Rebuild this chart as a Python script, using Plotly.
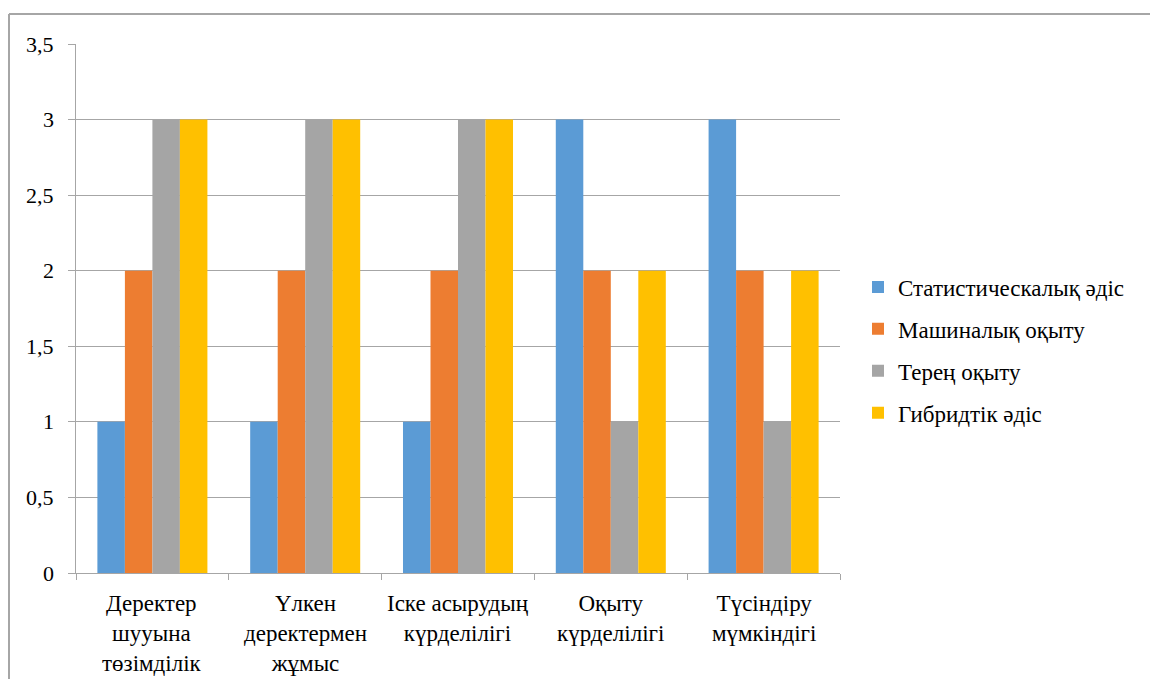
import plotly.graph_objects as go

categories = [
    "Деректер<br>шууына<br>төзімділік",
    "Үлкен<br>деректермен<br>жұмыс",
    "Іске асырудың<br>күрделілігі",
    "Оқыту<br>күрделілігі",
    "Түсіндіру<br>мүмкіндігі",
]
series_names = ["Статистическалық әдіс", "Машиналық оқыту", "Терең оқыту", "Гибридтік әдіс"]
statistical = [1, 1, 1, 3, 3]
machine_learning = [2, 2, 2, 2, 2]
deep_learning = [3, 3, 3, 1, 1]
hybrid = [3, 3, 3, 2, 2]
y_ticks = [0, 0.5, 1, 1.5, 2, 2.5, 3, 3.5]

colors = ["#5B9BD5", "#ED7D31", "#A5A5A5", "#FFC000"]
FONT = "Liberation Serif"

W, H = 1150, 679
L, R, T, B = 76, 310, 44, 106
pw, ph = W - L - R, H - T - B


def px_x(x):
    return (x - L) / pw


def px_y(y):
    return (H - B - y) / ph


fig = go.Figure()
for i, (name, vals) in enumerate(zip(series_names,
                                     [statistical, machine_learning, deep_learning, hybrid])):
    fig.add_trace(go.Bar(
        x=categories, y=vals, name=name,
        marker=dict(color=colors[i], line=dict(width=0)),
        legendgroup=f"g{i}",
    ))

# category labels under the x axis
for cat in categories:
    fig.add_annotation(x=cat, xref="x", y=0, yref="paper", yanchor="top", yshift=-16,
                       text=cat, showarrow=False, align="center",
                       font=dict(family=FONT, size=23, color="black"))

# value labels beside the y axis, with a decimal comma
for v in y_ticks:
    fig.add_annotation(x=0, xref="paper", xanchor="right", xshift=-20,
                       y=v, yref="y", yanchor="middle",
                       text=f"{v:g}".replace(".", ","), showarrow=False,
                       font=dict(family=FONT, size=22, color="black"))

fig.update_layout(
    width=W, height=H,
    margin=dict(l=L, r=R, t=T, b=B),
    paper_bgcolor="white", plot_bgcolor="white",
    separators=", ",
    barmode="group", bargap=0.28, bargroupgap=0,
    font=dict(family=FONT, size=23, color="black"),
    showlegend=True,
    legend=dict(
        x=px_x(858), y=px_y(350), xanchor="left", yanchor="middle",
        tracegroupgap=9,
    ),
    xaxis=dict(
        showgrid=False, showline=True, linecolor="#a6a6a6", linewidth=1,
        ticks="outside", tickson="boundaries", ticklen=6, tickcolor="#a6a6a6",
        showticklabels=False, automargin=False,
    ),
    yaxis=dict(
        range=[0, 3.5], tickvals=y_ticks, showgrid=True, gridcolor="#a6a6a6", gridwidth=1,
        showline=True, linecolor="#a6a6a6", linewidth=1,
        ticks="outside", ticklen=7, tickcolor="#a6a6a6",
        showticklabels=False, automargin=False,
        zeroline=False,
    ),
    shapes=[
        dict(type="line", xref="paper", yref="paper",
             x0=px_x(9), x1=px_x(W + 5), y0=px_y(14), y1=px_y(14),
             line=dict(color="#a6a6a6", width=2)),
        dict(type="line", xref="paper", yref="paper",
             x0=px_x(9), x1=px_x(9), y0=px_y(14), y1=px_y(H + 5),
             line=dict(color="#a6a6a6", width=2)),
    ],
)

fig.write_html("out.html")
